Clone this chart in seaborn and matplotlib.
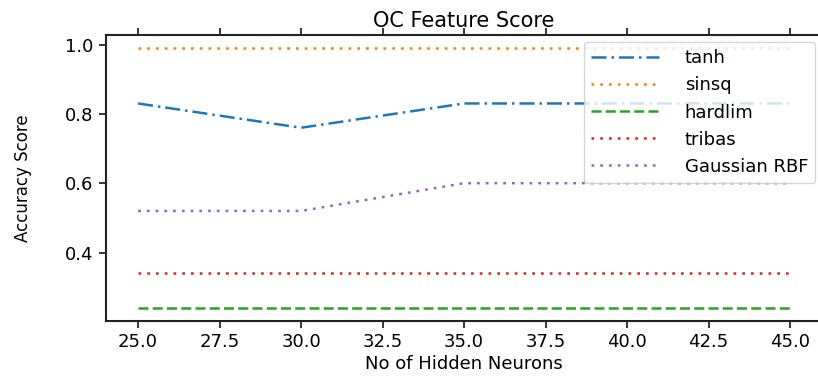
import matplotlib
matplotlib.use("Agg")
import matplotlib.pyplot as plt
import seaborn as sns
import pandas as pd

neurons = [25, 30, 35, 40, 45]
tanh = [0.83, 0.76, 0.83, 0.83, 0.83]
sinsq = [0.99, 0.99, 0.99, 0.99, 0.99]
hardlim = [0.24, 0.24, 0.24, 0.24, 0.24]
tribas = [0.34, 0.34, 0.34, 0.34, 0.34]
gaussian_rbf = [0.52, 0.52, 0.60, 0.60, 0.60]

series_names = ["tanh", "sinsq", "hardlim", "tribas", "Gaussian RBF"]
series_values = [tanh, sinsq, hardlim, tribas, gaussian_rbf]

dotted = (0, (1.1, 2.4))
styles = [(0, (6.0, 2.0, 1.0, 2.0)), dotted, (0, (4.0, 1.7)), dotted, dotted]

sns.set_style("ticks")
plt.rcParams["font.family"] = ["DejaVu Sans"]
plt.rcParams["text.color"] = "black"
plt.rcParams["axes.labelcolor"] = "black"
plt.rcParams["xtick.color"] = "black"
plt.rcParams["ytick.color"] = "black"
plt.rcParams["axes.spines.top"] = True
plt.rcParams["axes.spines.right"] = True

colors = sns.color_palette("tab10", 5)

fig = plt.figure(figsize=(8.18, 3.76), dpi=100)
ax = fig.add_axes([105.5 / 818, 55 / 376, (822.6 - 105.5) / 818, (320.5 - 34.5) / 376])

for name, vals, ls, c in zip(series_names, series_values, styles, colors):
    df = pd.DataFrame({"x": neurons, "y": vals})
    sns.lineplot(data=df, x="x", y="y", ax=ax, color=c, linestyle=ls,
                 linewidth=1.8, label=name)

ax.set_xlim(24, 46)
ax.set_ylim(0.2025, 1.0275)
ax.set_xticks([25.0, 27.5, 30.0, 32.5, 35.0, 37.5, 40.0, 42.5, 45.0])
ax.set_xticklabels(["25.0", "27.5", "30.0", "32.5", "35.0", "37.5", "40.0", "42.5", "45.0"])
ax.set_yticks([0.4, 0.6, 0.8, 1.0])
ax.set_yticklabels(["0.4", "0.6", "0.8", "1.0"])
ax.tick_params(axis="both", labelsize=13, top=True, right=True, direction="out",
               length=5, width=1.1, colors="black")
for s in ax.spines.values():
    s.set_visible(True)
    s.set_linewidth(1.5)
    s.set_color("#222222")
    s.set_zorder(5)

ax.set_title("OC Feature Score", fontsize=15, pad=6)
ax.set_xlabel("No of Hidden Neurons", fontsize=13, labelpad=3)
ax.set_ylabel("Accuracy Score", fontsize=12, labelpad=24)
ax.legend(loc="upper right", fontsize=13, frameon=True, borderaxespad=0.4,
          handlelength=3.8, handletextpad=1.4)

fig.savefig("out.png", dpi=100)
